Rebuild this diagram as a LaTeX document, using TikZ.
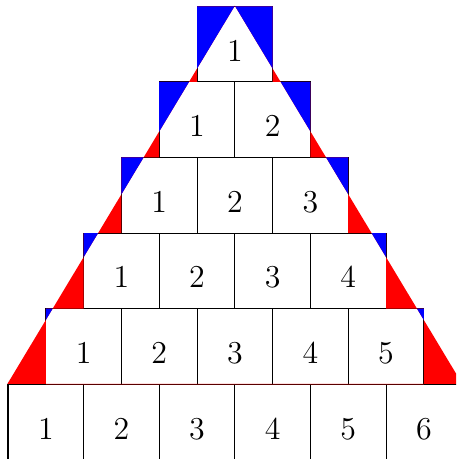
\documentclass[tikz,border=0pt]{standalone}
\usetikzlibrary{positioning}
\definecolor{gap}{HTML}{FF0000}
\definecolor{over}{HTML}{0000FF}
\def\stairs{(0.5,1) -- (5.5,1) -- (5.5,2) -- (5,2) -- (5,3) -- (4.5,3) -- (4.5,4) -- (4,4) -- (4,5) -- (3.5,5) -- (3.5,6)
  -- (2.5,6) -- (2.5,5) -- (2,5) -- (2,4) -- (1.5,4) -- (1.5,3) -- (1,3) -- (1,2) -- (0.5,2) -- cycle}

\begin{document}
\begin{tikzpicture}[
  cell/.style={draw,minimum size=1cm,inner sep=0pt,font=\large,
    text height=4.5mm,text depth=0pt},
  outside/.style={fill=over},
  inside/.style={fill=gap,even odd rule}
]
\useasboundingbox (-0.106,0.012) rectangle (5.926,6.083);
\clip (-0.106,0.012) rectangle (5.926,6.083);
% rows of cells, six at the bottom, one on top
\foreach \i in {0,...,5}{
  \pgfmathtruncatemacro\n{6-\i}
  \foreach \j in {1,...,\n}
    \node[cell] (c\i-\j) at (\i/2+\j-0.5,\i+0.5) {\j};
}
\coordinate (bl) at (c0-1.north west);
\coordinate (br) at (c0-6.north east);
\coordinate (top) at (c5-1.north);
% triangle vs staircase
\path[inside] (bl) -- (br) -- (top) -- cycle \stairs;
\begin{scope}
  \clip \stairs;
  \path[outside] (bl) -- (top) -- (0,6) -- cycle;
  \path[outside] (br) -- (top) -- (6,6) -- cycle;
\end{scope}
\end{tikzpicture}
\end{document}
